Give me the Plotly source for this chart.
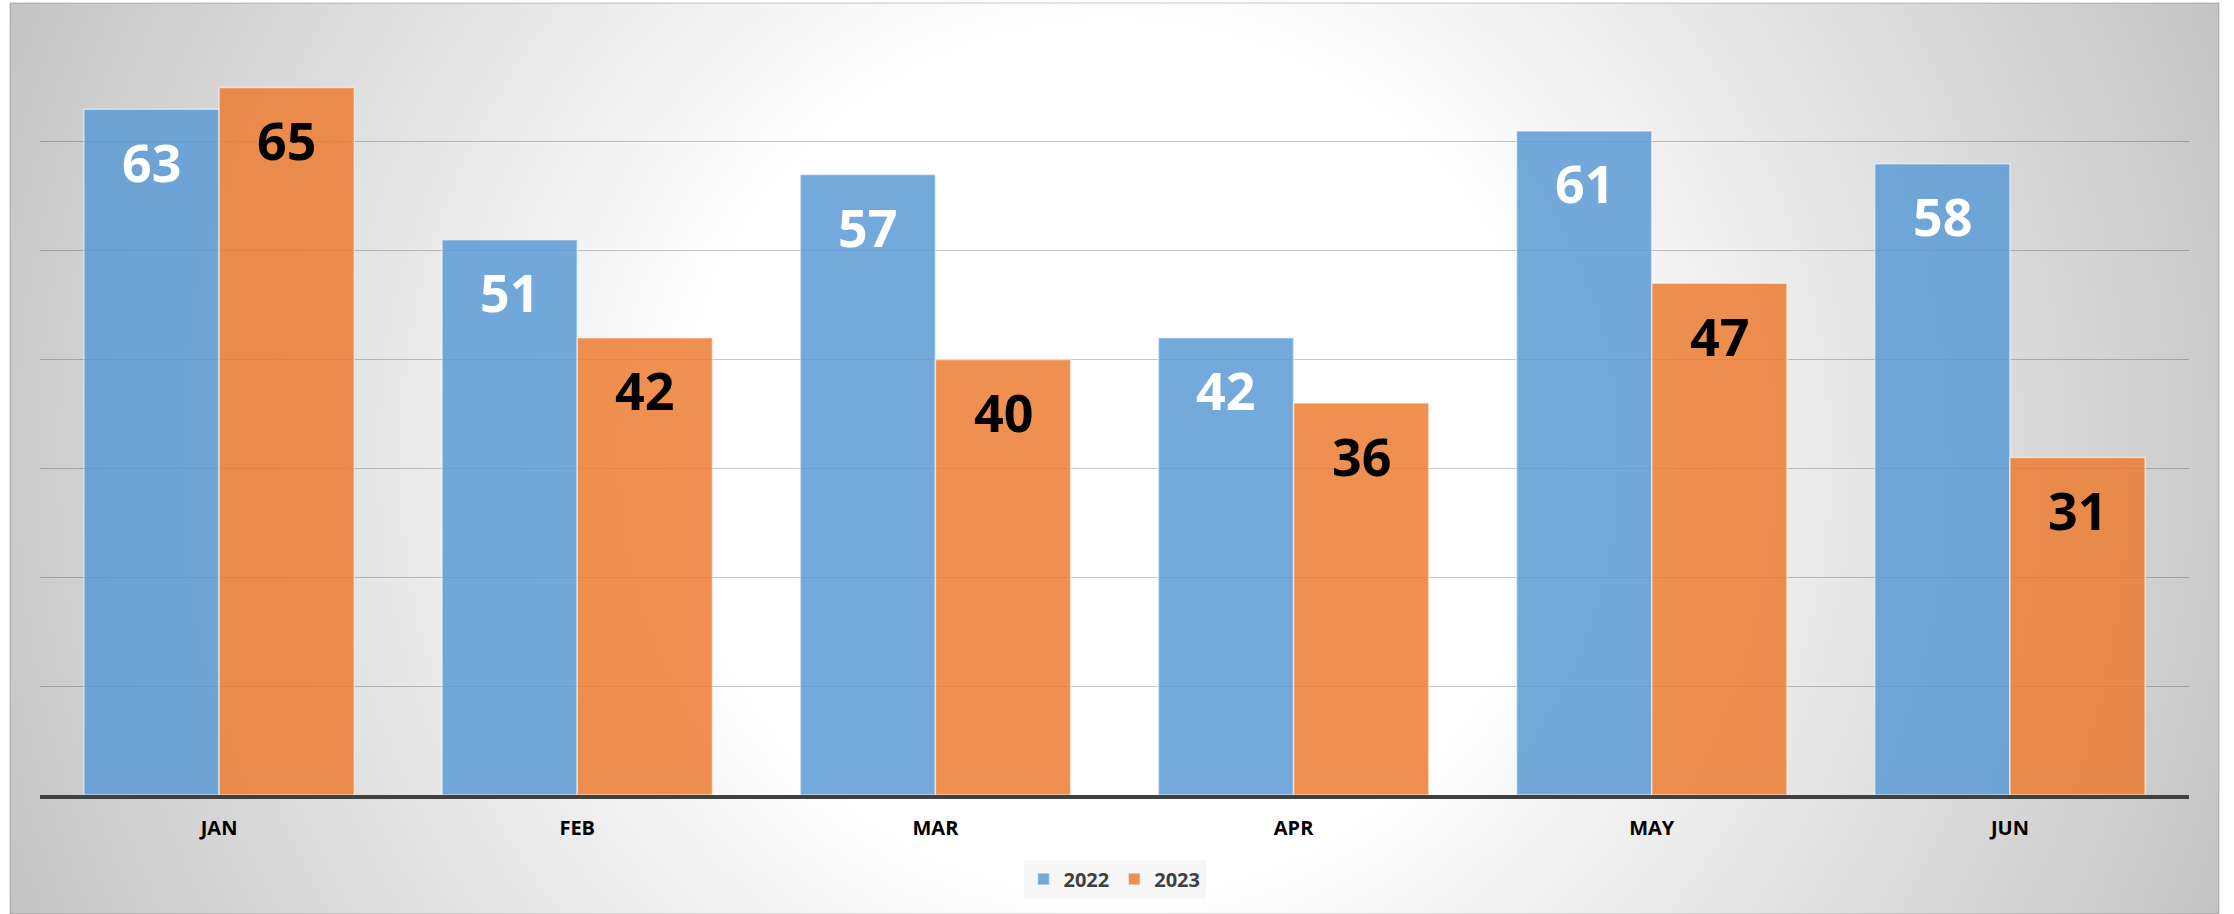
import base64
import plotly.graph_objects as go

months = ["JAN", "FEB", "MAR", "APR", "MAY", "JUN"]
series_names = ["2022", "2023"]
values_2022 = [63, 51, 57, 42, 61, 58]
values_2023 = [65, 42, 40, 36, 47, 31]

W, H = 2234, 914
ML, MR, MT, MB = 40, 45, 33, 119
pw, ph = W - ML - MR, H - MT - MB

bargap = 0.245
half = (1 - bargap) / 4  # center offset of each bar within the group

blue = "rgba(91,155,213,0.85)"
orange = "rgba(237,125,49,0.85)"
font_family = "'Open Sans', Lato, sans-serif"

fig = go.Figure()
for name, vals, col in [(series_names[0], values_2022, blue), (series_names[1], values_2023, orange)]:
    fig.add_trace(go.Bar(
        x=months, y=vals, name=name,
        marker=dict(color=col, line=dict(color="rgba(255,255,255,0.55)", width=1.5)),
        hoverinfo="x+y+name",
    ))

annotations = []
for i, m in enumerate(months):
    for vals, off, tc in [(values_2022, -half, "white"), (values_2023, half, "black")]:
        annotations.append(dict(
            x=i + off, y=vals[i], xref="x", yref="y", text=f"<b>{vals[i]}</b>",
            showarrow=False, yanchor="middle", xanchor="center", yshift=-52,
            font=dict(family=font_family, size=52, color=tc),
        ))

PW, PH = 2209, 911
svg = (
    f'<svg xmlns="http://www.w3.org/2000/svg" width="{PW}" height="{PH}" viewBox="0 0 {PW} {PH}" preserveAspectRatio="none">'
    '<defs><radialGradient id="g" gradientUnits="userSpaceOnUse" cx="1105" cy="455" r="1250">'
    '<stop offset="0" stop-color="#ffffff"/>'
    '<stop offset="0.34" stop-color="#ffffff"/>'
    '<stop offset="1" stop-color="#c0c0c0"/>'
    '</radialGradient></defs>'
    f'<rect x="0" y="0" width="{PW}" height="{PH}" fill="url(#g)"/></svg>'
)
src = "data:image/svg+xml;base64," + base64.b64encode(svg.encode()).decode()

x0 = (10 - ML) / pw
sx = PW / pw
y0 = 1 + (MT - 3) / ph
sy = PH / ph

fig.update_layout(
    width=W, height=H,
    margin=dict(l=ML, r=MR, t=MT, b=MB, pad=0),
    paper_bgcolor="white",
    plot_bgcolor="rgba(0,0,0,0)",
    barmode="group", bargap=bargap, bargroupgap=0,
    font=dict(family=font_family),
    images=[dict(source=src, xref="paper", yref="paper", x=x0, y=y0, sizex=sx, sizey=sy,
                 xanchor="left", yanchor="top", sizing="stretch", layer="below")],
    shapes=[dict(type="rect", xref="paper", yref="paper", x0=x0, x1=x0 + sx, y0=y0 - sy, y1=y0,
                 line=dict(color="rgba(0,0,0,0.15)", width=1.5), fillcolor="rgba(0,0,0,0)", layer="below")],
    annotations=annotations,
    showlegend=True,
    legend=dict(orientation="h", x=0.5, xanchor="center", y=(MT + ph - 879) / ph, yanchor="middle",
                bgcolor="#f7f7f7", font=dict(family=font_family, size=20, color="#404040", weight="bold"),
                itemwidth=30, traceorder="normal"),
    xaxis=dict(showgrid=False, showline=True, linecolor="#404040", linewidth=3.5,
               ticks="outside", ticklen=12, tickcolor="rgba(0,0,0,0)",
               tickfont=dict(family=font_family, size=20, color="black", weight="bold"),
               fixedrange=True),
    yaxis=dict(range=[0, 70], dtick=10, showgrid=True, gridcolor="rgba(0,0,0,0.22)", gridwidth=1,
               showticklabels=False, zeroline=False, showline=False, fixedrange=True),
)

fig.write_html("out.html", config={"displayModeBar": False},
               post_script="document.body.style.margin='0';document.body.style.overflow='hidden';")
